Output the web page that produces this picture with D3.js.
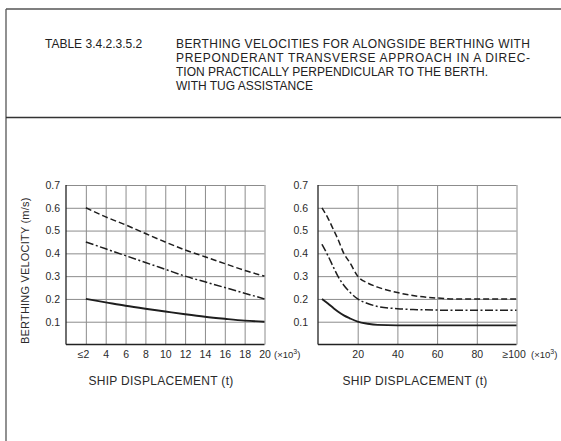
<!DOCTYPE html>
<html>
<head>
<meta charset="utf-8">
<script src="https://cdn.jsdelivr.net/npm/d3@7"></script>
<style>
  body { margin: 0; background: #fff; }
  svg { display: block; font-family: "Liberation Sans", Arial, sans-serif; }
  .grid line { stroke: #8c8c8c; stroke-width: 1; }
  .grid path { display: none; }
  .tk text { fill: #2a2a2a; font-size: 10.5px; }
  .tk path, .tk line { display: none; }
</style>
</head>
<body>
<div id="chart"></div>
<script>
// header text
const tableNo = "TABLE 3.4.2.3.5.2";
const titleLines = [
  "BERTHING VELOCITIES FOR ALONGSIDE BERTHING WITH",
  "PREPONDERANT TRANSVERSE APPROACH IN A DIREC-",
  "TION PRACTICALLY PERPENDICULAR TO THE BERTH.",
  "WITH TUG ASSISTANCE"
];

// velocity ticks (m/s)
const yTicks = [0.1, 0.2, 0.3, 0.4, 0.5, 0.6, 0.7];

// left panel: displacement 2..20 (x10^3 t)
const leftTicks = [2, 4, 6, 8, 10, 12, 14, 16, 18, 20];
const leftX = [2, 4, 6, 8, 10, 12, 14, 16, 18, 20];
const leftDashed = [0.60, 0.56, 0.525, 0.487, 0.45, 0.415, 0.385, 0.355, 0.325, 0.30];
const leftDashDot = [0.45, 0.42, 0.39, 0.36, 0.33, 0.30, 0.275, 0.25, 0.225, 0.20];
const leftSolid = [0.20, 0.185, 0.17, 0.157, 0.145, 0.133, 0.122, 0.113, 0.105, 0.10];

// right panel: displacement 0..100 (x10^3 t)
const rightTicks = [20, 40, 60, 80, 100];
const rightX = [2, 5, 8, 10, 13, 16, 20, 25, 30, 40, 50, 60, 70, 80, 90, 100];
const rightDashed = [0.60, 0.555, 0.50, 0.463, 0.40, 0.36, 0.30, 0.27, 0.252, 0.228, 0.212, 0.204, 0.20, 0.20, 0.20, 0.20];
const rightDashDot = [0.44, 0.39, 0.335, 0.30, 0.26, 0.23, 0.20, 0.18, 0.167, 0.157, 0.153, 0.151, 0.15, 0.15, 0.15, 0.15];
const rightSolid = [0.20, 0.18, 0.158, 0.145, 0.128, 0.115, 0.10, 0.091, 0.086, 0.084, 0.084, 0.084, 0.084, 0.084, 0.084, 0.084];

const svg = d3.select("#chart").append("svg")
    .attr("width", 561)
    .attr("height", 441);

svg.append("rect").attr("width", 561).attr("height", 441).attr("fill", "#fff");

// frame of the table
svg.append("line").attr("x1", 6).attr("x2", 561).attr("y1", 9).attr("y2", 9)
    .attr("stroke", "#555").attr("stroke-width", 1.3);
svg.append("line").attr("x1", 6).attr("x2", 6).attr("y1", 9).attr("y2", 441)
    .attr("stroke", "#555").attr("stroke-width", 1.3);
svg.append("line").attr("x1", 6).attr("x2", 561).attr("y1", 117.5).attr("y2", 117.5)
    .attr("stroke", "#333").attr("stroke-width", 1.6);

svg.append("text")
    .attr("x", 45).attr("y", 47.5)
    .attr("font-size", "12px").attr("fill", "#222")
    .text(tableNo);

titleLines.forEach((t, i) => {
    const txt = svg.append("text")
        .attr("x", 176).attr("y", 47.5 + i * 14.2)
        .attr("font-size", "12px").attr("fill", "#222")
        .text(t);
    if (i < 2) txt.attr("textLength", 354).attr("lengthAdjust", "spacing");
});

const y = d3.scaleLinear().domain([0, 0.7]).range([344.5, 185]);

const series = [
    { key: "dashed", dash: "6,3", width: 1.5 },
    { key: "dashdot", dash: "8,2.5,2,2.5", width: 1.5 },
    { key: "solid", dash: null, width: 1.9 }
];

function panel(opts) {
    const x = d3.scaleLinear().domain(opts.domain).range(opts.range);
    const g = svg.append("g");
    const top = y(0.7), bottom = y(0);

    // grid
    g.append("g").attr("class", "grid")
        .attr("transform", `translate(0,${bottom})`)
        .call(d3.axisBottom(x).tickValues(opts.ticks).tickSize(-(bottom - top)).tickFormat(""));
    g.append("g").attr("class", "grid")
        .attr("transform", `translate(${opts.range[0]},0)`)
        .call(d3.axisLeft(y).tickValues(yTicks).tickSize(-(opts.range[1] - opts.range[0])).tickFormat(""));

    // axes lines
    g.append("line").attr("x1", opts.range[0]).attr("x2", opts.range[0])
        .attr("y1", top).attr("y2", bottom).attr("stroke", "#222").attr("stroke-width", 1.3);
    g.append("line").attr("x1", opts.range[0]).attr("x2", opts.range[1])
        .attr("y1", bottom).attr("y2", bottom).attr("stroke", "#222").attr("stroke-width", 1.3);

    // tick labels
    g.append("g").attr("class", "tk")
        .attr("transform", `translate(${opts.range[0]},0)`)
        .call(d3.axisLeft(y).tickValues(yTicks).tickSize(0).tickPadding(opts.yPad).tickFormat(d3.format(".1f")));

    const xa = g.append("g").attr("class", "tk")
        .attr("transform", `translate(0,${bottom})`)
        .call(d3.axisBottom(x).tickValues(opts.ticks).tickSize(0).tickPadding(6));
    xa.selectAll("text").each(function(d) {
        const pre = opts.prefix[d];
        if (!pre) return;
        const t = d3.select(this);
        const w = this.getComputedTextLength();
        t.text(pre + d).attr("text-anchor", "end").attr("x", w / 2);
    });

    const unit = svg.append("text")
        .attr("x", opts.unitX).attr("y", 358)
        .attr("font-size", "9.5px").attr("fill", "#2a2a2a");
    unit.append("tspan").text("(×10");
    unit.append("tspan").attr("dy", -4).attr("font-size", "7px").text("3");
    unit.append("tspan").attr("dy", 4).text(")");

    svg.append("text")
        .attr("x", opts.titleX).attr("y", 385)
        .attr("text-anchor", "middle")
        .attr("font-size", "12px").attr("letter-spacing", "0.3px").attr("fill", "#2a2a2a")
        .text("SHIP DISPLACEMENT (t)");

    // curves
    const line = d3.line().curve(d3.curveMonotoneX)
        .x(d => x(d[0])).y(d => y(d[1]));
    opts.data.forEach((vals, i) => {
        const s = series[i];
        g.append("path")
            .datum(opts.xs.map((v, j) => [v, vals[j]]))
            .attr("fill", "none")
            .attr("stroke", "#1e1e1e")
            .attr("stroke-width", s.width)
            .attr("stroke-dasharray", s.dash)
            .attr("d", line);
    });
}

panel({
    domain: [0, 20], range: [66, 264.5], ticks: leftTicks, yPad: 6,
    prefix: { 2: "≤" }, unitX: 274, titleX: 161,
    xs: leftX, data: [leftDashed, leftDashDot, leftSolid]
});

panel({
    domain: [0, 100], range: [318, 516.5], ticks: rightTicks, yPad: 10,
    prefix: { 100: "≥" }, unitX: 531, titleX: 415,
    xs: rightX, data: [rightDashed, rightDashDot, rightSolid]
});

// y axis title (left panel only)
svg.append("text")
    .attr("transform", `translate(29,${(y(0) + y(0.7)) / 2 + 6}) rotate(-90)`)
    .attr("text-anchor", "middle")
    .attr("font-size", "11px").attr("letter-spacing", "0.2px").attr("fill", "#2a2a2a")
    .text("BERTHING VELOCITY (m/s)");
</script>
</body>
</html>
